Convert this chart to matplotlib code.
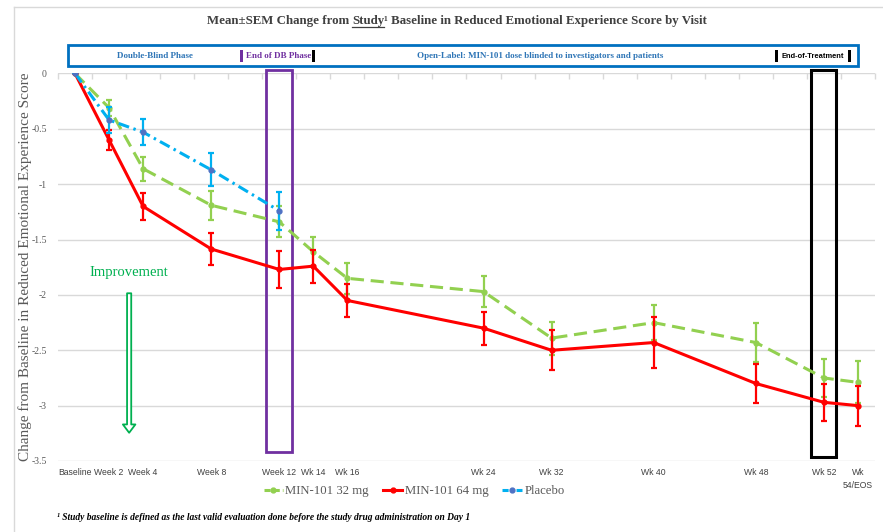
import matplotlib
matplotlib.use('Agg')
import matplotlib.pyplot as plt
from matplotlib.patches import Rectangle, FancyArrowPatch
from matplotlib.lines import Line2D

# ---------------- data ----------------
categories = ['Baseline', 'Week 2', 'Week 4', 'Week 8', 'Week 12', 'Wk 14', 'Wk 16',
              'Wk 24', 'Wk 32', 'Wk 40', 'Wk 48', 'Wk 52', 'Wk\n54/EOS']
# slot on the (Excel-style) category axis, which includes empty categories
category_slot = [0, 1, 2, 4, 6, 7, 8, 12, 14, 17, 20, 22, 23]
n_slots = 24

mean_32mg = [0, -0.31, -0.86, -1.19, -1.34, -1.61, -1.85, -1.97, -2.39, -2.25, -2.43, -2.75, -2.79]
sem_32mg = [0, 0.07, 0.11, 0.13, 0.14, 0.13, 0.14, 0.14, 0.15, 0.16, 0.18, 0.175, 0.19]

mean_64mg = [0, -0.60, -1.20, -1.585, -1.77, -1.74, -2.05, -2.30, -2.50, -2.43, -2.80, -2.97, -3.00]
sem_64mg = [0, 0.09, 0.12, 0.145, 0.17, 0.15, 0.15, 0.15, 0.18, 0.23, 0.18, 0.165, 0.18]

mean_placebo = [0, -0.42, -0.53, -0.87, -1.24]
sem_placebo = [0, 0.12, 0.12, 0.15, 0.17]

y_ticks = [0, -0.5, -1, -1.5, -2, -2.5, -3, -3.5]
y_tick_labels = ['0', '-0.5', '-1', '-1.5', '-2', '-2.5', '-3', '-3.5']

series_names = ['MIN-101 32 mg', 'MIN-101 64 mg', 'Placebo']

# ---------------- styling ----------------
GREEN = '#92D050'
RED = '#FF0000'
BLUE = '#00B0F0'
BLUE_MK = '#4F72C4'
PURPLE = '#7030A0'
HDR_BLUE = '#2E75B6'
GRID = '#D9D9D9'
GRAY_TXT = '#595959'
SERIF = ['Liberation Serif', 'DejaVu Serif']
SANS = ['Liberation Sans', 'DejaVu Sans']

W, H = 883, 532
fig = plt.figure(figsize=(W / 100, H / 100), dpi=100)
fig.patch.set_facecolor('white')

def fx(px):
    return px / W

def fy(py):
    return 1 - py / H

# faint chart-area border (top and left edges)
fig.add_artist(Line2D([fx(14), 1.0], [fy(7), fy(7)], transform=fig.transFigure,
                      color=GRID, lw=1))
fig.add_artist(Line2D([fx(14), fx(14)], [fy(7), 0.0], transform=fig.transFigure,
                      color=GRID, lw=1))

ax = fig.add_axes([fx(58), fy(461), fx(875) - fx(58), (461 - 73.5) / H])
ax.set_xlim(-0.5, n_slots - 0.5)
ax.set_ylim(-3.5, 0)
for s in ax.spines.values():
    s.set_visible(False)

ax.set_yticks(y_ticks)
ax.set_yticklabels(y_tick_labels, family=SERIF, fontsize=7, color=GRAY_TXT)
ax.yaxis.grid(True, color=GRID, lw=1)
ax.set_axisbelow(True)
ax.tick_params(axis='y', length=0, pad=8)

ax.set_xticks(category_slot)
ax.set_xticklabels(categories, family=SANS, fontsize=6.2, color='#404040',
                   linespacing=1.6, va='top')
ax.set_xticks([k - 0.5 for k in range(n_slots + 1)], minor=True)
ax.tick_params(axis='x', which='major', length=0, pad=5)
ax.tick_params(axis='x', which='minor', bottom=False, top=True, direction='in',
               length=4, color=GRID, width=1)

ax.set_ylabel('Change from Baseline in Reduced Emotional Experience Score',
              family=SERIF, fontsize=11, color=GRAY_TXT, labelpad=-0.5)

# phase boxes
ax.add_patch(Rectangle((5.62, -3.42), 0.76, 3.45, fill=False, ec=PURPLE, lw=2,
                       clip_on=False, zorder=2))
ax.add_patch(Rectangle((21.62, -3.46), 0.74, 3.49, fill=False, ec='black', lw=2.2,
                       clip_on=False, zorder=2))

# series
common = dict(marker='o', ms=3.5, elinewidth=1.6, capsize=2, capthick=1.6, lw=2.2)
ax.errorbar(category_slot, mean_32mg, yerr=sem_32mg, color=GREEN,
            ls=(0, (4.3, 2.2)), zorder=3, label=series_names[0], **common)
ax.errorbar(category_slot, mean_64mg, yerr=sem_64mg, color=RED,
            ls='-', zorder=4, label=series_names[1], **common)
ax.errorbar(category_slot[:len(mean_placebo)], mean_placebo, yerr=sem_placebo,
            color=BLUE, mfc=BLUE_MK, mec=BLUE_MK, ls=(0, (3.6, 1.5, 0.8, 1.5)),
            zorder=5, label=series_names[2], **common)

# improvement arrow
ax.add_patch(FancyArrowPatch((1.59, -1.96), (1.59, -3.27),
                             arrowstyle='simple,head_width=9,head_length=6,tail_width=3',
                             mutation_scale=1, fc='white', ec='#00B050', lw=1.3,
                             zorder=2))
ax.text(1.59, -1.80, 'Improvement', family=SERIF, fontsize=10.5, color='#00B050',
        ha='center', va='center')

# legend
handles = [Line2D([], [], color=GREEN, lw=2.2, marker='o', ms=3.5, ls=(0, (2, 1))),
           Line2D([], [], color=RED, lw=2.2, marker='o', ms=3.5),
           Line2D([], [], color=BLUE, lw=2.2, marker='o', ms=3.5, mfc=BLUE_MK, mec=BLUE_MK,
                  ls=(0, (2, 1, 0.6, 1)))]
leg = fig.legend(handles, series_names, loc='center', bbox_to_anchor=(fx(414), fy(491)),
                 ncol=3, frameon=False, handlelength=1.5, handletextpad=0.2,
                 columnspacing=1.1, prop={'family': SERIF, 'size': 9.2})
for t in leg.get_texts():
    t.set_color(GRAY_TXT)

# header box
fig.add_artist(Rectangle((fx(68), fy(66)), fx(858) - fx(68), 21 / H,
                         transform=fig.transFigure, fill=False, ec='#0070C0', lw=2))
hy = fy(56)
fig.text(fx(155), hy, 'Double-Blind Phase', family=SERIF, weight='bold', fontsize=6.5,
         color=HDR_BLUE, ha='center', va='center')
fig.text(fx(279), hy, 'End of DB Phase', family=SERIF, weight='bold', fontsize=6.5,
         color=PURPLE, ha='center', va='center')
fig.text(fx(540), hy, 'Open-Label: MIN-101 dose blinded to investigators and patients',
         family=SERIF, weight='bold', fontsize=6.5, color=HDR_BLUE, ha='center', va='center')
fig.text(fx(812.5), hy, 'End-of-Treatment', family=SANS, weight='bold', fontsize=5.4,
         color='black', ha='center', va='center')
for bx, col in [(242, PURPLE), (313, 'black'), (776, 'black'), (849, 'black')]:
    fig.add_artist(Rectangle((fx(bx - 1.5), fy(62)), 3 / W, 12 / H,
                             transform=fig.transFigure, fc=col, ec='none'))

# title with underlined "Study"
renderer = fig.canvas.get_renderer()
tkw = dict(family=SERIF, weight='bold', fontsize=9.3, color='#404040', va='baseline')

def text_width(s):
    t = fig.text(0, 0, s, **tkw)
    w = t.get_window_extent(renderer).width
    t.remove()
    return w

p1 = 'Mean±SEM Change from'
p2 = 'Study'
p3 = '¹ Baseline in Reduced Emotional Experience Score by Visit'
space = text_width('a a') - text_width('aa')
w1, w2, w3 = text_width(p1), text_width(p2), text_width(p3)
total = w1 + space + w2 + w3
x0 = 457 - total / 2
ty = fy(24)
fig.text(fx(x0), ty, p1, ha='left', **tkw)
xs = x0 + w1 + space
fig.text(fx(xs), ty, p2, ha='left', **tkw)
fig.text(fx(xs + w2), ty, p3, ha='left', **tkw)
fig.add_artist(Line2D([fx(xs), fx(xs + w2)], [fy(26.5), fy(26.5)],
                      transform=fig.transFigure, color='#404040', lw=0.9))

# footnote
fig.text(fx(57), fy(517), '¹ Study baseline is defined as the last valid evaluation done '
         'before the study drug administration on Day 1', family=SERIF, style='italic',
         weight='bold', fontsize=6.85, color='black', ha='left', va='center')

fig.savefig('out.png', dpi=100, facecolor='white')
